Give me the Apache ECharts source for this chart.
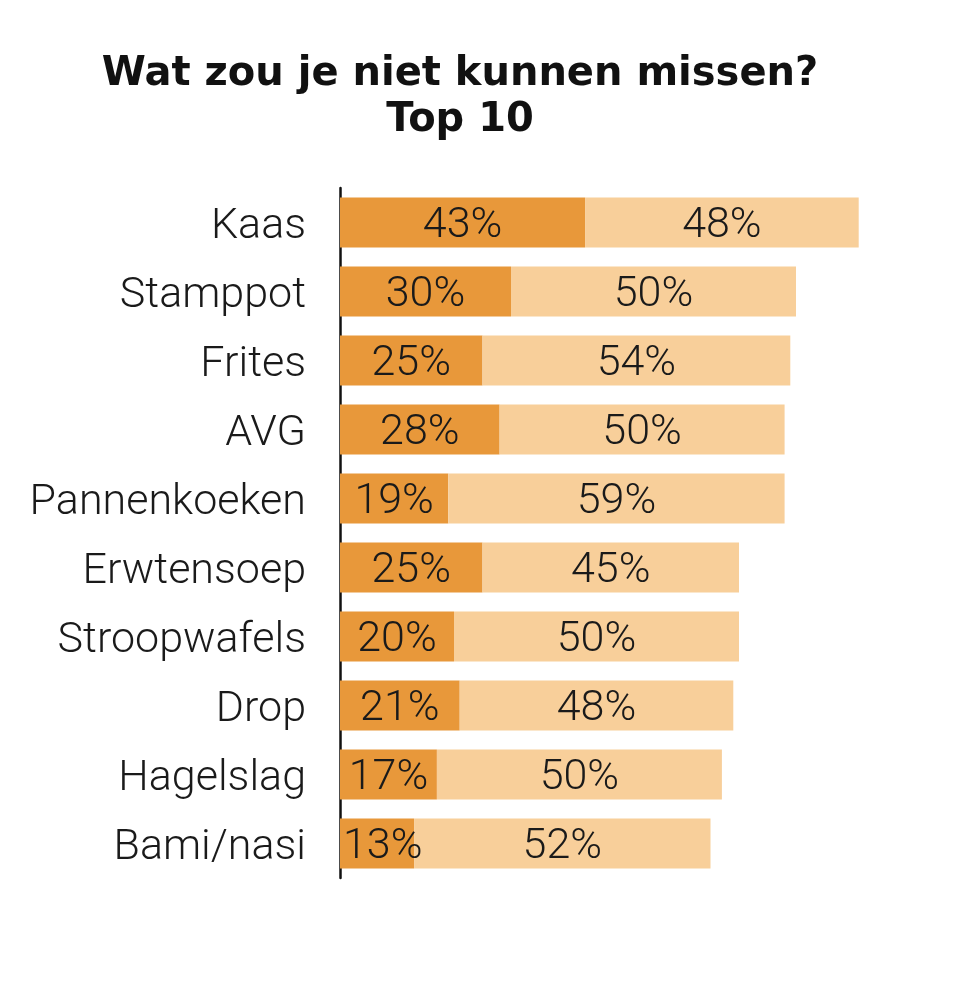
<!DOCTYPE html>
<html><head><meta charset="utf-8">
<script src="https://cdn.jsdelivr.net/npm/echarts@6/dist/echarts.min.js"></script>
<style>html,body{margin:0;padding:0;background:#fff}#c{width:958px;height:990px}</style>
</head><body><div id="c"></div>
<script>
const categories = ['Kaas','Stamppot','Frites','AVG','Pannenkoeken','Erwtensoep','Stroopwafels','Drop','Hagelslag','Bami/nasi'];
const zeerBelangrijk = [43,30,25,28,19,25,20,21,17,13];
const belangrijk = [48,50,54,50,59,45,50,48,50,52];
const titleText = 'Wat zou je niet kunnen missen?\nTop 10';

const chart = echarts.init(document.getElementById('c'));
const labelFont = {fontFamily:'Roboto', fontWeight:300, fontSize:43, color:'#1a1a1a'};
chart.setOption({
  backgroundColor:'#fff',
  title:{text:titleText, left:455, top:47, textAlign:'center',
    textStyle:{fontFamily:'DejaVu Sans', fontWeight:'bold', fontSize:40, lineHeight:46, color:'#111'}},
  grid:{left:340, width:570, top:188, height:690},
  xAxis:{type:'value', min:0, max:100, show:false},
  yAxis:{type:'category', data:categories, inverse:true,
    axisLine:{show:true, lineStyle:{color:'#111', width:2.5}},
    axisTick:{show:false},
    axisLabel:{margin:34, formatter: v => '{t|' + v + '}',
      rich:{t:Object.assign({padding:[10,0,0,0]}, labelFont)}}},
  series:[
    {type:'bar', stack:'a', barWidth:50,
     itemStyle:{color:'#E8983A'},
     data: zeerBelangrijk.map(v => ({value:v, label: v < 16 ? {position:'insideLeft', distance:3} : {}})),
     label:Object.assign({show:true, position:'inside', offset:[0,4], formatter:'{c}%'}, labelFont)},
    {type:'bar', stack:'a', barWidth:50,
     itemStyle:{color:'#F8CF9A'},
     data: belangrijk,
     label:Object.assign({show:true, position:'inside', offset:[0,4], formatter:'{c}%'}, labelFont)}
  ]
});
</script></body></html>
